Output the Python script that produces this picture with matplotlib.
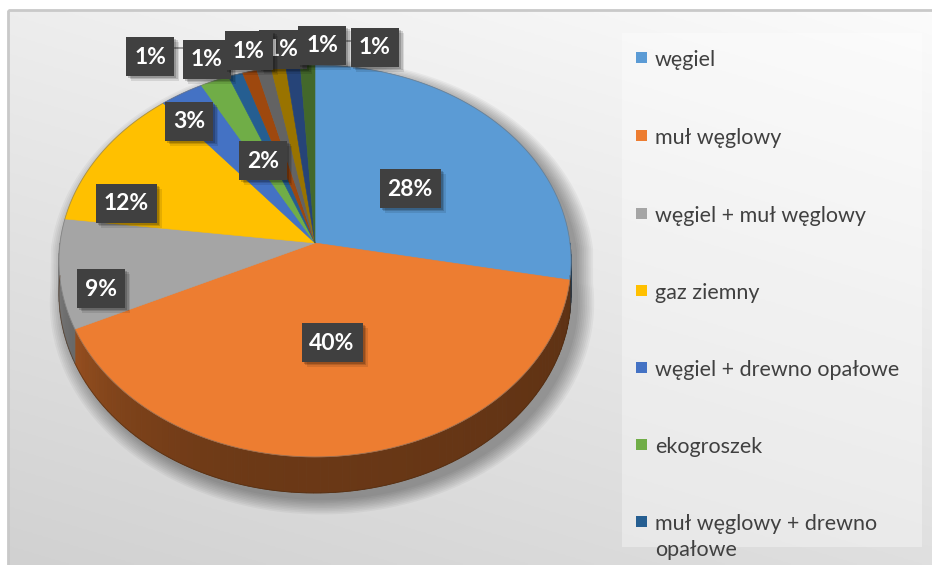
import numpy as np
import matplotlib
matplotlib.use("Agg")
import matplotlib.pyplot as plt
from matplotlib.patches import Polygon, Rectangle
import matplotlib.colors as mcolors
import textwrap

# ---------------- data ----------------
categories = ["węgiel", "muł węglowy", "węgiel + muł węglowy", "gaz ziemny",
              "węgiel + drewno opałowe", "ekogroszek", "muł węglowy + drewno opałowe",
              "inne 1", "inne 2", "inne 3", "inne 4", "inne 5"]
values = [28, 40, 9, 12, 3, 2, 1, 1, 1, 1, 1, 1]
colors = ["#5B9BD5", "#ED7D31", "#A5A5A5", "#FFC000", "#4472C4", "#70AD47",
          "#255E91", "#9E480E", "#636363", "#997300", "#264478", "#43682B"]
legend_count = 7  # entries visible in the legend

# ---------------- layout ----------------
W, H = 932, 565
CX, CY = 315, 243          # pie centre on screen
RX, RY = 255, 194.3        # radii
K = 0.0918                 # perspective factor
T = 32.7                   # thickness
label_pos = [(410, 188), (332, 342), (101, 288), (126, 203), (189, 121), (263, 160),
             (150, 56), (207, 59), (249, 50), (283, 49), (322, 45), (375, 47)]

fig = plt.figure(figsize=(W / 100, H / 100), dpi=100)
ax = fig.add_axes([0, 0, 1, 1])
ax.set_xlim(0, W)
ax.set_ylim(H, 0)
ax.axis("off")

# background gradient
xx, yy = np.meshgrid(np.linspace(0, 1, 300), np.linspace(0, 1, 200))
bg = 0.985 - 0.11 * yy - 0.055 * (1 - xx)
ax.imshow(np.dstack([bg, bg, bg]), extent=[8, W, H, 10], zorder=0, aspect="auto")
ax.add_patch(Rectangle((8, 10), W, H, fill=False, edgecolor="#C9C9C9", lw=2, zorder=1))


def proj(theta_deg, depth=0.0):
    th = np.radians(theta_deg)
    u, v = np.cos(th), np.sin(th)
    s = 1.0 / (1.0 + K * v)
    return CX + RX * u * s, CY - RY * v * s + T * depth * s


total = float(sum(values))
cum = np.concatenate([[0], np.cumsum(values)])
starts = 90 - 360 * cum[:-1] / total
ends = 90 - 360 * cum[1:] / total

# shadow
th_all = np.linspace(0, 360, 361)
outline = []
for t in th_all:
    d = 0.0 if np.sin(np.radians(t)) >= 0 else 1.0
    outline.append(proj(t, d))
outline = np.array(outline)
for i in range(10):
    sc = 1.0 + 0.007 * i
    pts = np.column_stack([(outline[:, 0] - CX) * sc + CX + 7, (outline[:, 1] - CY - 20) * sc + CY + 20 + 7])
    ax.add_patch(Polygon(pts, closed=True, facecolor="black", edgecolor="none", alpha=0.04, zorder=2))


def shade(theta):
    if theta <= -90:
        t = (-90 - theta) / 90.0
        return 0.45 + 0.35 * t ** 2
    return 0.45 - 0.06 * (theta + 90) / 90.0


# side walls
for i, (a, b) in enumerate(zip(starts, ends)):
    lo, hi = max(b, -180), min(a, 0)
    if lo >= hi:
        continue
    edges = np.arange(lo, hi, 1.5)
    edges = np.append(edges, hi)
    base = np.array(mcolors.to_rgb(colors[i]))
    for e0, e1 in zip(edges[:-1], edges[1:]):
        ts = np.linspace(e0, e1, 4)
        top = [proj(t, 0) for t in ts]
        bot = [proj(t, 1) for t in ts[::-1]]
        c = np.clip(base * shade((e0 + e1) / 2), 0, 1)
        ax.add_patch(Polygon(top + bot, closed=True, facecolor=c, edgecolor=c, lw=0.6, zorder=3))

# top faces
for i, (a, b) in enumerate(zip(starts, ends)):
    n = max(3, int(abs(a - b) * 2))
    pts = [(CX, CY)] + [proj(t, 0) for t in np.linspace(a, b, n)]
    ax.add_patch(Polygon(pts, closed=True, facecolor=colors[i], edgecolor=colors[i], lw=0.4, zorder=4))

# rim lines
rim = np.array([proj(t, 0) for t in th_all])
ax.plot(rim[:, 0], rim[:, 1], color="#6F6F6F", lw=0.6, alpha=0.6, zorder=5)
fr = np.array([proj(t, 1) for t in np.linspace(-180, 0, 200)])
ax.plot(fr[:, 0], fr[:, 1], color="#4A2A10", lw=0.6, alpha=0.6, zorder=5)

# leader lines
ax.plot([175, 184], [48, 48], color="#8C8C8C", lw=1.2, zorder=6)
ax.plot([347, 352], [41, 41], color="#8C8C8C", lw=1.2, zorder=6)

# data labels
pct = [f"{round(100 * v / total)}%" for v in values]
for i, (txt, (x, y)) in enumerate(zip(pct, label_pos)):
    z = 7 if i == 9 else 8 + i * 0.01
    bw, bh = 22 + 13 * len(txt), 39
    for j, al in enumerate([0.18, 0.14, 0.10]):
        off = 2 + j * 1.5
        ax.add_patch(Rectangle((x - bw / 2 + off, y - bh / 2 + off), bw, bh, facecolor="black",
                               edgecolor="none", alpha=al, zorder=z))
    ax.add_patch(Rectangle((x - bw / 2, y - bh / 2), bw, bh, facecolor="#404040",
                           edgecolor="none", zorder=z + 0.001))
    ax.text(x, y + 1, txt, color="white", fontsize=16.5, fontweight="bold", family="Lato",
            ha="center", va="center", zorder=z + 0.002)

# legend
ax.add_patch(Rectangle((622, 33), 300, 514, facecolor="white", edgecolor="none", alpha=0.35, zorder=2))
leg_y = [58, 136, 214, 291, 368, 445, 522]
for i in range(legend_count):
    y = leg_y[i]
    ax.add_patch(Rectangle((636, y - 6), 11, 11, facecolor=colors[i], edgecolor="none", zorder=6))
    ax.text(655, y - 8, textwrap.fill(categories[i], 24), color="#404040", fontsize=15.5,
            family="Lato", ha="left", va="top", linespacing=1.38, zorder=6)

fig.savefig("out.png", dpi=100)
